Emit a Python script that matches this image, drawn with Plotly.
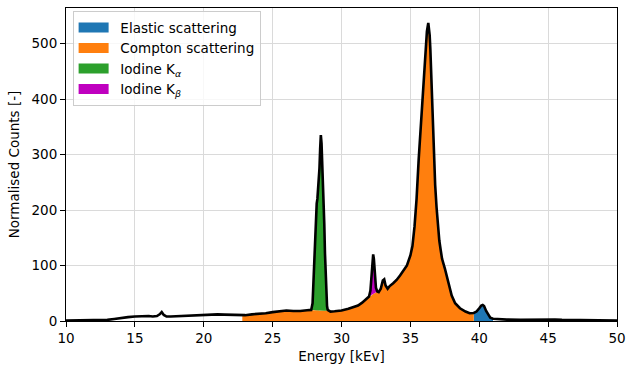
import plotly.graph_objects as go

# Measured spectrum (energy in keV, normalised counts)
energy_kev = [
    10.0, 10.5, 11.0, 11.5, 12.0, 12.5, 13.0, 13.5, 14.0, 14.5,
    15.0, 15.5, 16.0, 16.3, 16.6, 16.8, 16.95, 17.1, 17.3, 17.6,
    18.0, 18.5, 19.0, 19.5, 20.0, 20.5, 21.0, 21.5, 22.0, 22.5,
    22.8, 23.0, 23.5, 24.0, 24.5, 25.0, 25.5, 25.8, 26.0, 26.5,
    27.0, 27.5, 27.8, 27.9, 28.0, 28.1, 28.2, 28.25, 28.3, 28.4,
    28.45, 28.5, 28.55, 28.6, 28.65, 28.7, 28.75, 28.8, 28.85, 28.9,
    28.95, 29.0, 29.2, 29.5, 30.0, 30.5, 30.9, 31.2, 31.5, 31.8,
    32.0, 32.1, 32.2, 32.3, 32.35, 32.4, 32.5, 32.6, 32.7, 32.85,
    33.0, 33.1, 33.2, 33.35, 33.5, 33.75, 34.0, 34.25, 34.5, 34.75,
    35.0, 35.15, 35.3, 35.45, 35.6, 35.75, 35.9, 36.0, 36.1, 36.2,
    36.3, 36.4, 36.45, 36.5, 36.55, 36.6, 36.7, 36.8, 36.9, 37.0,
    37.1, 37.2, 37.3, 37.5, 37.75, 38.0, 38.25, 38.6, 39.0, 39.3,
    39.6, 39.8, 40.0, 40.15, 40.25, 40.35, 40.5, 40.65, 40.8, 41.0,
    41.5, 42.0, 43.0, 44.0, 45.0, 45.5, 46.0, 47.0, 48.0, 49.0, 50.0,
]
counts = [
    1, 1, 1, 1, 1.5, 2, 2, 3.5, 5.5, 7,
    8, 9, 9, 8, 9, 12, 16, 11, 8, 8,
    8.5, 9, 10, 10, 10.5, 11.5, 12, 11.5, 11, 10.5,
    10.5, 10.5, 12, 12.5, 14, 16, 18, 19.5, 19, 18,
    18, 19.5, 20, 32, 100, 180, 212, 220, 235, 275,
    310, 335, 320, 290, 260, 225, 175, 122, 80, 45,
    27, 20, 17, 17.5, 19, 22, 25, 28, 33, 39,
    44, 55, 85, 120, 112, 85, 60, 53, 52, 58,
    73, 75, 64, 58, 63, 68, 74, 82, 90, 100,
    118, 135, 170, 220, 290, 350, 410, 455, 495, 522,
    537, 515, 490, 450, 405, 365, 290, 245, 205, 170,
    145, 128, 112, 95, 68, 46, 32, 23, 17, 14,
    14.5, 17, 23, 28, 29, 27, 18, 11, 6, 4,
    3, 2.5, 2, 2.5, 3, 2.5, 2, 1.5, 1.5, 1, 1,
]

# Energy windows of each contribution (keV)
compton_window = (22.8, 39.6)
elastic_window = (39.6, 41.0)
kalpha_window = (27.8, 29.0)
kbeta_window = (32.0, 32.6)

# Compton continuum underneath the iodine lines (one value per point in window)
kalpha_continuum = [20, 20, 20, 19.5, 19.5, 19.5, 19.5, 19, 19, 19,
                    19, 19, 18.5, 18.5, 18.5, 18.5, 18.5, 18.5, 19, 20]
kbeta_continuum = [44, 45.5, 47, 48.5, 49.5, 50, 51.5, 53]

assert len(energy_kev) == len(counts)


def window_idx(win):
    return [i for i, e in enumerate(energy_kev) if win[0] - 1e-9 <= e <= win[1] + 1e-9]


ka_idx = window_idx(kalpha_window)
kb_idx = window_idx(kbeta_window)
assert len(ka_idx) == len(kalpha_continuum) and len(kb_idx) == len(kbeta_continuum)

# Compton curve: the spectrum itself, with the continuum substituted under the lines
compton_curve = list(counts)
for i, v in zip(ka_idx, kalpha_continuum):
    compton_curve[i] = v
for i, v in zip(kb_idx, kbeta_continuum):
    compton_curve[i] = v

c_idx = window_idx(compton_window)
el_idx = window_idx(elastic_window)

C_ELASTIC = "#1f77b4"
C_COMPTON = "#ff7f0e"
C_KALPHA = "#2ca02c"
C_KBETA = "#bf00bf"

FONT = "DejaVu Sans"
FS = 13.5

fig = go.Figure()

# Filled contributions
fig.add_trace(go.Scatter(
    x=[energy_kev[i] for i in el_idx], y=[counts[i] for i in el_idx],
    mode="lines", line=dict(width=0), fill="tozeroy", fillcolor=C_ELASTIC,
    showlegend=False, hoverinfo="skip"))
fig.add_trace(go.Scatter(
    x=[energy_kev[i] for i in c_idx], y=[compton_curve[i] for i in c_idx],
    mode="lines", line=dict(width=0), fill="tozeroy", fillcolor=C_COMPTON,
    showlegend=False, hoverinfo="skip"))


def line_band(idx, color):
    xs = [energy_kev[i] for i in idx]
    top = [counts[i] for i in idx]
    base = [compton_curve[i] for i in idx]
    return go.Scatter(x=xs + xs[::-1], y=top + base[::-1], mode="lines",
                      line=dict(width=0), fill="toself", fillcolor=color,
                      showlegend=False, hoverinfo="skip")


fig.add_trace(line_band(ka_idx, C_KALPHA))
fig.add_trace(line_band(kb_idx, C_KBETA))

# Measured spectrum
fig.add_trace(go.Scatter(x=energy_kev, y=counts, mode="lines",
                         line=dict(color="black", width=2.6),
                         showlegend=False))

# Legend entries (en space keeps a gap between swatch and label)
GAP = "\u2002"
legend_items = [
    ("Elastic scattering", C_ELASTIC),
    ("Compton scattering", C_COMPTON),
    ("Iodine K<sub><i>α</i></sub>", C_KALPHA),
    ("Iodine K<sub><i>β</i></sub>", C_KBETA),
]
for k, (name, color) in enumerate(legend_items):
    fig.add_trace(go.Scatter(x=[None], y=[None], mode="lines", name=GAP + name,
                             line=dict(color=color, width=10),
                             legendgroup=f"g{k}", showlegend=True))

axis_common = dict(
    showline=True, linecolor="black", linewidth=1, mirror=True,
    ticks="outside", ticklen=5, tickwidth=1, tickcolor="black",
    showgrid=True, gridcolor="#dadada", gridwidth=1,
    zeroline=False, automargin=False,
    tickfont=dict(family=FONT, size=FS, color="black"),
)

fig.update_layout(
    width=629, height=370,
    margin=dict(l=66, r=12, t=8, b=49),
    paper_bgcolor="white", plot_bgcolor="white",
    font=dict(family=FONT, size=FS, color="black"),
    xaxis=dict(range=[10, 50], tickvals=[10, 15, 20, 25, 30, 35, 40, 45, 50],
               title=dict(text="Energy [kEv]", font=dict(family=FONT, size=FS), standoff=6),
               **axis_common),
    yaxis=dict(range=[0, 564], tickvals=[0, 100, 200, 300, 400, 500],
               title=dict(text="Normalised Counts [-]", font=dict(family=FONT, size=FS), standoff=8),
               **axis_common),
    legend=dict(x=0.012, y=0.99, xanchor="left", yanchor="top",
                bgcolor="rgba(255,255,255,0.8)", bordercolor="#cccccc", borderwidth=1,
                font=dict(family=FONT, size=FS, color="black"),
                tracegroupgap=0, itemwidth=30),
)

fig.write_html("out.html")
